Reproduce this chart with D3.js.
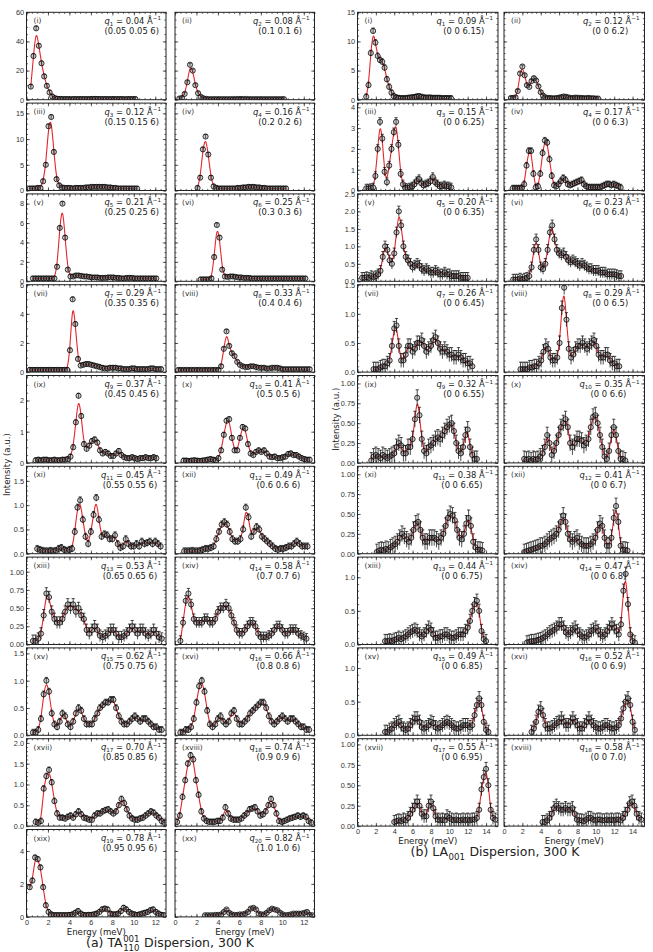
<!DOCTYPE html>
<html>
<head>
<meta charset="utf-8">
<script src="https://cdn.jsdelivr.net/npm/d3@7"></script>
<style>
  body { margin: 0; background: #fff; }
  svg { font-family: "DejaVu Sans", sans-serif; }
  .tick text { fill: #333; }
  text { white-space: pre; }
</style>
</head>
<body>
<script>
// ---- panel labels ----
const roman = ["i","ii","iii","iv","v","vi","vii","viii","ix","x","xi","xii","xiii","xiv","xv","xvi","xvii","xviii","xix","xx"];
const taQ = ["0.04","0.08","0.12","0.16","0.21","0.25","0.29","0.33","0.37","0.41","0.45","0.49","0.53","0.58","0.62","0.66","0.70","0.74","0.78","0.82"];
const taHKL = ["(0.05 0.05 6)","(0.1 0.1 6)","(0.15 0.15 6)","(0.2 0.2 6)","(0.25 0.25 6)","(0.3 0.3 6)","(0.35 0.35 6)","(0.4 0.4 6)","(0.45 0.45 6)","(0.5 0.5 6)","(0.55 0.55 6)","(0.6 0.6 6)","(0.65 0.65 6)","(0.7 0.7 6)","(0.75 0.75 6)","(0.8 0.8 6)","(0.85 0.85 6)","(0.9 0.9 6)","(0.95 0.95 6)","(1.0 1.0 6)"];
const laQ = ["0.09","0.12","0.15","0.17","0.20","0.23","0.26","0.29","0.32","0.35","0.38","0.41","0.44","0.47","0.49","0.52","0.55","0.58"];
const laHKL = ["(0 0 6.15)","(0 0 6.2)","(0 0 6.25)","(0 0 6.3)","(0 0 6.35)","(0 0 6.4)","(0 0 6.45)","(0 0 6.5)","(0 0 6.55)","(0 0 6.6)","(0 0 6.65)","(0 0 6.7)","(0 0 6.75)","(0 0 6.8)","(0 0 6.85)","(0 0 6.9)","(0 0 6.95)","(0 0 7.0)"];

// ---- axis ranges per row ----
const taYMax = [60, 17, 9, 6, 2.8, 1.8, 1.2, 1.6, 2.1, 5.3];
const taYStep = [20, 5, 2, 2, 1, 0.5, 0.25, 0.5, 0.5, 2];
const taYMinor = [5, 1, 0.5, 0.5, 0.25, 0.1, 0.05, 0.1, 0.1, 0.5];
const taYDec = [0, 0, 0, 0, 0, 1, 2, 1, 1, 0];
const laYMax = [15, 4.2, 2.5, 1.5, 1.1, 1.1, 1.3, 1.3, 1.07];
const laYStep = [5, 1, 0.5, 0.5, 0.25, 0.25, 0.5, 0.5, 0.25];
const laYMinor = [1, 0.2, 0.1, 0.1, 0.05, 0.05, 0.1, 0.1, 0.05];
const laYDec = [0, 0, 1, 1, 2, 2, 1, 1, 2];

// ---- measured spectra: first energy (meV), fixed energy step, intensities ----
const eStep = 0.25;
const taStart = [0.4,0.4,0.3,2.1,0.6,2.4,0.3,0.3,0.85,0.8,1.0,0.85,0.6,0.5,0.6,0.5,0.85,0.2,0.3,2.8];
const laStart = [0.95,0.75,0.95,0.95,0.5,1.0,1.75,1.8,1.5,2.2,2.1,2.2,3.0,2.5,3.0,3.0,4.0,4.2];
const taErr = [1.5,1.0,0.4,0.4,0.2,0.2,0.15,0.12,0.08,0.08,0.07,0.07,0.08,0.07,0.06,0.06,0.07,0.07,0.15,0.06];
const laErr = [0.5,0.25,0.2,0.15,0.15,0.15,0.12,0.12,0.1,0.1,0.1,0.1,0.1,0.1,0.1,0.1,0.08,0.08];

const ta01 = [9,30,49,37,25,16,9.5,5,2.2,1,0.6,0.5,0.4,0.4,0.4,0.3,0.4,0.4,0.4,0.4,0.4,0.4,0.4,0.5,0.5,0.5,0.4,0.4,0.4,0.4,0.4,0.4,0.4,0.4,0.4,0.3,0.4,0.4,0.4,0.4];
const ta02 = [0.8,1.2,4,12,24,20,10,4.5,2,1,0.6,0.4,0.4,0.4,0.4,0.4,0.4,0.4,0.4,0.4,0.4,0.5,0.5,0.5,0.5,0.5,0.4,0.4,0.4,0.4,0.4,0.4,0.4,0.4,0.4,0.4,0.4,0.4,0.4,0.4];
const ta03 = [0.4,0.4,0.4,0.5,0.5,1.8,5,12.5,14.3,7.5,2.2,1.0,0.6,0.5,0.5,0.5,0.4,0.5,0.5,0.5,0.5,0.6,0.6,0.7,0.7,0.7,0.7,0.7,0.7,0.6,0.6,0.5,0.5,0.4,0.4,0.4,0.4,0.4,0.4,0.4,0.4];
const ta04 = [0.5,2.5,8,10.5,7,2.5,0.8,0.5,0.4,0.4,0.4,0.4,0.4,0.4,0.4,0.5,0.5,0.6,0.6,0.7,0.7,0.7,0.6,0.6,0.5,0.5,0.4,0.4,0.4,0.4,0.4,0.4,0.4,0.4];
const ta05 = [0.3,0.3,0.3,0.3,0.3,0.3,0.3,0.3,0.3,1.5,5.5,8,4.5,1.2,0.5,0.5,0.6,0.6,0.55,0.5,0.5,0.45,0.4,0.4,0.4,0.35,0.35,0.35,0.4,0.4,0.4,0.35,0.35,0.3,0.3,0.35,0.35,0.35,0.3,0.3,0.3,0.3,0.3,0.3,0.3,0.3,0.3];
const ta06 = [0.2,0.2,0.2,0.2,0.3,2.5,5.8,4.5,1.2,0.5,0.45,0.5,0.5,0.45,0.4,0.4,0.35,0.35,0.35,0.3,0.3,0.3,0.3,0.3,0.3,0.3,0.3,0.3,0.3,0.3,0.3,0.3,0.3,0.3,0.3,0.3,0.3,0.3,0.3,0.3];
const ta07 = [0.15,0.15,0.15,0.15,0.15,0.15,0.15,0.15,0.15,0.15,0.15,0.15,0.15,0.15,0.15,1.5,5.0,3.3,0.9,0.45,0.5,0.55,0.55,0.5,0.45,0.4,0.35,0.3,0.25,0.25,0.3,0.3,0.3,0.25,0.25,0.2,0.2,0.2,0.25,0.25,0.2,0.2,0.2,0.2,0.2,0.25,0.25,0.2,0.2,0.2];
const ta08 = [0.15,0.15,0.15,0.15,0.15,0.15,0.15,0.15,0.15,0.15,0.15,0.15,0.15,0.15,0.15,0.15,0.4,1.6,2.8,1.8,1.3,1.1,0.7,0.5,0.4,0.35,0.35,0.4,0.4,0.35,0.3,0.3,0.3,0.25,0.25,0.3,0.3,0.3,0.25,0.2,0.2,0.2,0.2,0.2,0.2,0.2,0.2,0.2,0.2,0.2];
const ta09 = [0.08,0.1,0.08,0.1,0.1,0.08,0.08,0.1,0.08,0.08,0.1,0.1,0.12,0.2,0.5,1.3,2.15,1.5,0.6,0.45,0.55,0.7,0.75,0.65,0.4,0.3,0.35,0.3,0.22,0.22,0.3,0.38,0.25,0.18,0.15,0.15,0.18,0.15,0.12,0.15,0.15,0.18,0.15,0.15,0.18,0.15];
const ta10 = [0.07,0.07,0.06,0.07,0.08,0.07,0.06,0.07,0.08,0.1,0.12,0.1,0.08,0.15,0.4,0.9,1.35,1.4,0.8,0.4,0.4,0.8,1.15,1.1,0.6,0.3,0.25,0.35,0.4,0.35,0.4,0.3,0.2,0.18,0.2,0.15,0.15,0.18,0.2,0.28,0.3,0.25,0.25,0.2,0.15,0.12,0.1,0.1];
const ta11 = [0.1,0.08,0.06,0.05,0.05,0.06,0.05,0.06,0.1,0.12,0.08,0.06,0.08,0.1,0.45,0.95,1.1,0.7,0.35,0.2,0.45,0.8,1.15,0.7,0.35,0.4,0.38,0.3,0.3,0.38,0.2,0.12,0.15,0.3,0.2,0.15,0.15,0.2,0.15,0.25,0.2,0.22,0.25,0.2,0.25,0.2,0.15];
const ta12 = [0.05,0.05,0.05,0.06,0.05,0.05,0.06,0.08,0.1,0.1,0.12,0.15,0.3,0.45,0.6,0.65,0.6,0.45,0.3,0.25,0.25,0.3,0.5,0.95,0.75,0.35,0.45,0.55,0.5,0.35,0.3,0.25,0.2,0.15,0.1,0.08,0.1,0.1,0.12,0.15,0.15,0.2,0.25,0.2,0.15,0.15,0.15];
const ta13 = [0.05,0.05,0.08,0.15,0.4,0.7,0.65,0.45,0.35,0.3,0.3,0.35,0.45,0.55,0.5,0.55,0.45,0.5,0.4,0.35,0.2,0.15,0.2,0.25,0.2,0.12,0.1,0.12,0.15,0.2,0.2,0.15,0.1,0.1,0.12,0.15,0.2,0.25,0.2,0.15,0.2,0.2,0.15,0.12,0.15,0.2,0.15,0.1,0.08];
const ta14 = [0.05,0.3,0.6,0.7,0.55,0.35,0.3,0.3,0.3,0.35,0.35,0.3,0.3,0.35,0.45,0.5,0.5,0.55,0.5,0.4,0.3,0.2,0.15,0.15,0.2,0.25,0.3,0.3,0.25,0.15,0.1,0.1,0.1,0.12,0.15,0.2,0.25,0.25,0.2,0.15,0.15,0.2,0.2,0.2,0.15,0.12,0.1,0.08];
const ta15 = [0.05,0.05,0.1,0.3,0.75,1.0,0.8,0.4,0.2,0.15,0.25,0.4,0.35,0.2,0.15,0.25,0.4,0.5,0.45,0.3,0.2,0.2,0.2,0.3,0.4,0.5,0.55,0.6,0.6,0.65,0.65,0.5,0.35,0.25,0.2,0.2,0.25,0.3,0.35,0.3,0.25,0.3,0.3,0.25,0.2,0.15,0.15,0.1,0.1];
const ta16 = [0.05,0.05,0.1,0.1,0.15,0.3,0.6,0.9,1.0,0.8,0.45,0.2,0.15,0.2,0.3,0.35,0.25,0.2,0.25,0.4,0.45,0.3,0.2,0.2,0.25,0.3,0.4,0.45,0.5,0.55,0.6,0.6,0.5,0.35,0.25,0.2,0.25,0.3,0.35,0.3,0.25,0.3,0.3,0.25,0.2,0.15,0.15,0.1,0.1];
const ta17 = [0.1,0.08,0.12,0.9,1.2,1.35,1.05,0.6,0.3,0.2,0.2,0.18,0.22,0.25,0.2,0.28,0.35,0.28,0.2,0.18,0.15,0.15,0.25,0.3,0.3,0.35,0.38,0.4,0.35,0.3,0.35,0.5,0.65,0.55,0.4,0.25,0.18,0.15,0.15,0.18,0.2,0.25,0.3,0.35,0.32,0.25,0.2,0.12,0.08];
const ta18 = [0.1,0.25,0.7,1.1,1.5,1.7,1.6,1.1,0.75,0.35,0.18,0.12,0.1,0.1,0.1,0.12,0.12,0.2,0.45,0.3,0.18,0.15,0.15,0.15,0.18,0.25,0.3,0.4,0.42,0.45,0.35,0.25,0.28,0.35,0.5,0.65,0.5,0.3,0.12,0.1,0.12,0.15,0.18,0.2,0.22,0.25,0.22,0.25,0.22,0.12,0.08];
const ta19 = [1.8,2.2,3.6,3.5,3.0,1.8,0.7,0.3,0.15,0.1,0.1,0.1,0.1,0.1,0.1,0.12,0.15,0.25,0.35,0.2,0.12,0.1,0.12,0.12,0.15,0.2,0.3,0.45,0.5,0.45,0.2,0.15,0.15,0.2,0.35,0.55,0.45,0.3,0.2,0.15,0.12,0.15,0.2,0.25,0.3,0.4,0.45,0.3,0.2,0.12,0.1];
const ta20 = [0.1,0.1,0.1,0.1,0.12,0.12,0.15,0.3,0.45,0.25,0.15,0.12,0.12,0.15,0.15,0.2,0.3,0.5,0.55,0.45,0.2,0.15,0.15,0.25,0.4,0.5,0.45,0.4,0.25,0.15,0.1,0.12,0.15,0.2,0.2,0.2,0.2,0.25,0.3,0.12,0.1];

const la01 = [0.5,2.5,8,11.8,9.8,7.5,6.8,6.5,5.5,3.5,2.2,1.2,0.6,0.35,0.25,0.2,0.2,0.2,0.25,0.3,0.35,0.4,0.5,0.55,0.45,0.35,0.3,0.3,0.3,0.25,0.25,0.25,0.25,0.2,0.2,0.2,0.2,0.2];
const la02 = [0.3,0.3,0.4,1.5,4.5,5.7,4.2,2.5,2.2,3.2,3.7,3.3,2.3,1.3,0.7,0.4,0.3,0.3,0.25,0.25,0.3,0.35,0.45,0.55,0.5,0.4,0.3,0.3,0.35,0.35,0.3,0.3,0.25,0.3,0.3,0.25,0.25,0.2,0.2];
const la03 = [0.1,0.1,0.12,0.15,0.7,2.0,3.3,2.5,0.9,0.4,1.2,2.0,2.8,3.3,2.2,0.8,0.3,0.12,0.12,0.15,0.2,0.3,0.45,0.55,0.35,0.25,0.3,0.35,0.45,0.65,0.4,0.3,0.2,0.2,0.25,0.2,0.2,0.15];
const la04 = [0.1,0.1,0.1,0.1,0.12,0.3,1.2,1.9,1.9,0.8,0.15,0.2,0.8,1.8,2.4,2.3,1.5,0.7,0.25,0.2,0.3,0.45,0.6,0.5,0.3,0.25,0.3,0.35,0.4,0.45,0.5,0.3,0.2,0.15,0.15,0.15,0.15,0.15,0.15,0.2,0.25,0.3,0.3,0.25,0.3,0.25,0.2,0.15];
const la05 = [0.1,0.1,0.12,0.1,0.15,0.12,0.15,0.2,0.3,0.7,1.0,0.9,0.6,0.5,0.8,1.4,2.0,1.6,1.0,0.7,0.6,0.5,0.4,0.45,0.5,0.45,0.35,0.3,0.35,0.3,0.25,0.25,0.3,0.25,0.2,0.2,0.25,0.2,0.2,0.15,0.15,0.15,0.15,0.1,0.1,0.1,0.1];
const la06 = [0.05,0.05,0.05,0.08,0.05,0.08,0.1,0.15,0.4,0.9,1.2,0.9,0.4,0.35,0.5,0.9,1.4,1.6,1.2,0.9,0.8,0.75,0.8,0.7,0.6,0.55,0.6,0.55,0.5,0.45,0.5,0.45,0.4,0.35,0.35,0.3,0.3,0.3,0.25,0.25,0.25,0.2,0.2,0.2,0.2,0.18,0.15,0.15];
const la07 = [0.05,0.05,0.05,0.08,0.1,0.1,0.15,0.2,0.45,0.75,0.8,0.45,0.2,0.2,0.3,0.45,0.45,0.35,0.4,0.5,0.5,0.55,0.45,0.35,0.4,0.45,0.55,0.6,0.5,0.4,0.35,0.4,0.35,0.3,0.3,0.25,0.25,0.3,0.25,0.2,0.2,0.15,0.15,0.1];
const la08 = [0.05,0.05,0.05,0.05,0.08,0.08,0.1,0.1,0.15,0.2,0.35,0.45,0.4,0.25,0.2,0.2,0.25,0.5,1.1,1.45,0.9,0.4,0.25,0.3,0.4,0.45,0.45,0.5,0.45,0.4,0.45,0.5,0.55,0.45,0.3,0.25,0.25,0.3,0.3,0.2,0.15,0.15,0.1,0.1];
const la09 = [0.03,0.08,0.1,0.08,0.06,0.1,0.08,0.06,0.08,0.1,0.12,0.2,0.25,0.22,0.12,0.12,0.2,0.2,0.3,0.55,0.82,0.6,0.3,0.15,0.12,0.2,0.22,0.25,0.3,0.32,0.3,0.35,0.4,0.45,0.48,0.5,0.4,0.25,0.15,0.12,0.2,0.35,0.42,0.2,0.1,0.05,0.05];
const la10 = [0.05,0.04,0.05,0.03,0.05,0.04,0.05,0.08,0.12,0.2,0.35,0.25,0.1,0.15,0.25,0.35,0.45,0.5,0.55,0.45,0.25,0.2,0.25,0.3,0.3,0.28,0.22,0.25,0.3,0.45,0.58,0.6,0.5,0.35,0.2,0.08,0.05,0.15,0.35,0.45,0.35,0.15,0.05,0.05,0.03];
const la11 = [0.02,0.04,0.05,0.04,0.06,0.05,0.08,0.1,0.12,0.15,0.2,0.25,0.22,0.18,0.15,0.2,0.3,0.38,0.4,0.3,0.2,0.15,0.15,0.2,0.2,0.2,0.18,0.15,0.2,0.25,0.35,0.45,0.5,0.48,0.42,0.3,0.2,0.18,0.25,0.38,0.45,0.35,0.15,0.08,0.05,0.05,0.04];
const la12 = [0.02,0.03,0.04,0.05,0.06,0.07,0.08,0.1,0.1,0.12,0.15,0.18,0.2,0.22,0.25,0.3,0.4,0.48,0.4,0.25,0.18,0.15,0.18,0.2,0.15,0.12,0.1,0.1,0.1,0.12,0.15,0.2,0.3,0.38,0.35,0.2,0.1,0.1,0.2,0.45,0.6,0.4,0.1,0.05,0.05,0.04];
const la13 = [0.05,0.05,0.06,0.05,0.07,0.08,0.1,0.08,0.1,0.12,0.15,0.18,0.2,0.22,0.2,0.15,0.12,0.15,0.2,0.25,0.22,0.15,0.1,0.1,0.12,0.12,0.15,0.15,0.12,0.1,0.1,0.12,0.15,0.15,0.15,0.2,0.25,0.35,0.5,0.6,0.65,0.5,0.2,0.08,0.05];
const la14 = [0.03,0.04,0.05,0.05,0.06,0.07,0.08,0.1,0.12,0.15,0.18,0.2,0.22,0.25,0.3,0.3,0.25,0.18,0.15,0.18,0.22,0.25,0.2,0.15,0.12,0.1,0.12,0.15,0.2,0.22,0.25,0.2,0.15,0.12,0.15,0.2,0.25,0.3,0.25,0.2,0.15,0.3,0.8,1.05,0.6,0.15,0.05,0.03];
const la15 = [0.05,0.05,0.08,0.1,0.15,0.18,0.2,0.15,0.1,0.08,0.1,0.15,0.2,0.25,0.25,0.2,0.12,0.1,0.12,0.15,0.2,0.18,0.12,0.1,0.12,0.15,0.18,0.2,0.18,0.15,0.12,0.1,0.1,0.12,0.15,0.15,0.15,0.12,0.15,0.3,0.45,0.55,0.45,0.2,0.08,0.05];
const la16 = [0.05,0.1,0.2,0.35,0.4,0.3,0.15,0.1,0.1,0.12,0.15,0.18,0.2,0.25,0.2,0.15,0.15,0.2,0.25,0.2,0.15,0.1,0.1,0.15,0.2,0.25,0.2,0.15,0.12,0.1,0.1,0.12,0.15,0.15,0.12,0.1,0.1,0.12,0.15,0.25,0.4,0.5,0.55,0.45,0.2,0.08];
const la17 = [0.05,0.06,0.07,0.06,0.08,0.07,0.1,0.15,0.2,0.25,0.3,0.25,0.15,0.12,0.12,0.25,0.3,0.22,0.12,0.08,0.07,0.08,0.07,0.12,0.1,0.08,0.07,0.08,0.07,0.07,0.08,0.07,0.08,0.07,0.08,0.08,0.1,0.2,0.45,0.6,0.7,0.5,0.2,0.1,0.08];
const la18 = [0.05,0.05,0.07,0.1,0.15,0.22,0.25,0.22,0.2,0.2,0.22,0.2,0.2,0.22,0.15,0.08,0.07,0.07,0.06,0.08,0.1,0.1,0.08,0.07,0.08,0.08,0.07,0.07,0.08,0.07,0.08,0.07,0.08,0.08,0.07,0.1,0.15,0.2,0.28,0.3,0.25,0.15,0.1,0.08];

const taData = [ta01,ta02,ta03,ta04,ta05,ta06,ta07,ta08,ta09,ta10,ta11,ta12,ta13,ta14,ta15,ta16,ta17,ta18,ta19,ta20];
const laData = [la01,la02,la03,la04,la05,la06,la07,la08,la09,la10,la11,la12,la13,la14,la15,la16,la17,la18];

// ---- layout ----
const svg = d3.select('body').append('svg')
  .attr('width', 653).attr('height', 952);

const rowTop = 12.3, rowPitch = 90.8, panelH = 87.4;

function drawPanel(cfg) {
  const {x0, y0, w, h, xMax, yMax, yStep, yMinor, yDec, showY, showX, vals, start, err, rn, q, qi, hkl} = cfg;
  const g = svg.append('g').attr('transform', `translate(${x0},${y0})`);
  const x = d3.scaleLinear().domain([0, xMax]).range([0, w]);
  const y = d3.scaleLinear().domain([0, yMax]).range([h, 0]);

  const pts = vals.map((v, i) => ({e: start + i * eStep, v: v}));

  const xMaj = d3.range(0, xMax + 0.001, 2);
  const xMin = d3.range(0, xMax + 0.001, 0.5);
  const yMaj = d3.range(0, yMax + 1e-6, yStep);
  const yMin = d3.range(0, yMax + 1e-6, yMinor);

  // minor ticks
  [[d3.axisBottom(x), h], [d3.axisTop(x), 0]].forEach(([ax, ty]) => {
    g.append('g').attr('transform', `translate(0,${ty})`)
      .call(ax.tickValues(xMin).tickSize(-1.6).tickSizeOuter(0).tickFormat(''))
      .call(s => s.select('.domain').remove());
  });
  [[d3.axisLeft(y), 0], [d3.axisRight(y), w]].forEach(([ax, tx]) => {
    g.append('g').attr('transform', `translate(${tx},0)`)
      .call(ax.tickValues(yMin).tickSize(-1.6).tickSizeOuter(0).tickFormat(''))
      .call(s => s.select('.domain').remove());
  });

  // major ticks
  g.append('g').attr('transform', `translate(0,${h})`)
    .call(d3.axisBottom(x).tickValues(xMaj).tickSize(-3.2).tickSizeOuter(0).tickPadding(3)
      .tickFormat(showX ? d3.format('d') : ''))
    .call(s => s.select('.domain').remove())
    .call(s => s.selectAll('text').attr('font-size', 7.3));
  g.append('g')
    .call(d3.axisTop(x).tickValues(xMaj).tickSize(-3.2).tickSizeOuter(0).tickFormat(''))
    .call(s => s.select('.domain').remove());
  g.append('g')
    .call(d3.axisLeft(y).tickValues(yMaj).tickSize(-3.2).tickSizeOuter(0).tickPadding(2.5)
      .tickFormat(showY ? d3.format(`.${yDec}f`) : ''))
    .call(s => s.select('.domain').remove())
    .call(s => s.selectAll('text').attr('font-size', 7.3));
  g.append('g').attr('transform', `translate(${w},0)`)
    .call(d3.axisRight(y).tickValues(yMaj).tickSize(-3.2).tickSizeOuter(0).tickFormat(''))
    .call(s => s.select('.domain').remove());
  g.selectAll('.tick line').attr('stroke', '#222').attr('stroke-width', 0.7);

  const plot = g.append('g');
  const clipId = `clip${Math.round(x0)}_${Math.round(y0)}`;
  g.append('clipPath').attr('id', clipId).append('rect').attr('width', w).attr('height', h);
  plot.attr('clip-path', `url(#${clipId})`);

  // fit curve
  const line = d3.line().x(d => x(d.e)).y(d => y(d.v)).curve(d3.curveBasis);
  plot.append('path').datum(pts).attr('d', line)
    .attr('fill', 'none').attr('stroke', '#e3262b').attr('stroke-width', 1.1);

  // error bars
  const eb = plot.append('g').attr('stroke', '#000').attr('stroke-width', 0.7);
  eb.selectAll('line.v').data(pts).join('line').attr('class', 'v')
    .attr('x1', d => x(d.e)).attr('x2', d => x(d.e))
    .attr('y1', d => y(d.v - err)).attr('y2', d => y(d.v + err));
  eb.selectAll('line.c').data(pts).join('line').attr('class', 'c')
    .attr('x1', d => x(d.e) - 1.6).attr('x2', d => x(d.e) + 1.6)
    .attr('y1', d => y(d.v + err)).attr('y2', d => y(d.v + err));

  // markers
  plot.selectAll('circle').data(pts).join('circle')
    .attr('cx', d => x(d.e)).attr('cy', d => y(d.v)).attr('r', 2.6)
    .attr('fill', 'rgba(110,110,110,0.35)').attr('stroke', '#000').attr('stroke-width', 0.75);

  // frame
  g.append('rect').attr('width', w).attr('height', h)
    .attr('fill', 'none').attr('stroke', '#222').attr('stroke-width', 1);

  // labels
  g.append('text').attr('x', 7).attr('y', 11).attr('font-size', 7.4).attr('fill', '#333').text(`(${rn})`);
  const t = g.append('text').attr('x', w - 5).attr('y', 11.5).attr('text-anchor', 'end')
    .attr('font-size', 8.4).attr('fill', '#222');
  t.append('tspan').attr('font-style', 'italic').text('q');
  t.append('tspan').attr('dy', 2).attr('font-size', 5.6).text(qi);
  t.append('tspan').attr('dy', -2).text(` = ${q} Å`);
  t.append('tspan').attr('dy', -3.4).attr('font-size', 5.6).text('−1');
  const tw = t.node().getComputedTextLength();
  g.append('text').attr('x', w - 5 - tw / 2 - 1).attr('y', 21.5).attr('text-anchor', 'middle')
    .attr('font-size', 8.4).attr('fill', '#222').text(hkl);
}

// (a) TA figure
const taCols = [26.5, 175], taW = 139.5;
taData.forEach((vals, i) => {
  const row = Math.floor(i / 2), col = i % 2;
  drawPanel({
    x0: taCols[col], y0: rowTop + row * rowPitch, w: taW, h: panelH,
    xMax: 13, yMax: taYMax[row], yStep: taYStep[row], yMinor: taYMinor[row], yDec: taYDec[row],
    showY: col === 0, showX: row === 9,
    vals: vals, start: taStart[i], err: taErr[i],
    rn: roman[i], q: taQ[i], qi: i + 1, hkl: taHKL[i]
  });
});

// (b) LA figure
const laCols = [357.5, 504], laW = 140.5;
laData.forEach((vals, i) => {
  const row = Math.floor(i / 2), col = i % 2;
  drawPanel({
    x0: laCols[col], y0: rowTop + row * rowPitch, w: laW, h: panelH,
    xMax: 15.3, yMax: laYMax[row], yStep: laYStep[row], yMinor: laYMinor[row], yDec: laYDec[row],
    showY: col === 0, showX: row === 8,
    vals: vals, start: laStart[i], err: laErr[i],
    rn: roman[i], q: laQ[i], qi: i + 1, hkl: laHKL[i]
  });
});

// axis titles
const taBottom = rowTop + 9 * rowPitch + panelH;
const laBottom = rowTop + 8 * rowPitch + panelH;
taCols.forEach(c => svg.append('text').attr('x', c + taW / 2).attr('y', taBottom + 18)
  .attr('text-anchor', 'middle').attr('font-size', 8.6).attr('fill', '#222').text('Energy (meV)'));
laCols.forEach(c => svg.append('text').attr('x', c + laW / 2).attr('y', laBottom + 18)
  .attr('text-anchor', 'middle').attr('font-size', 8.6).attr('fill', '#222').text('Energy (meV)'));

svg.append('text').attr('transform', `translate(10,${(rowTop + taBottom) / 2}) rotate(-90)`)
  .attr('text-anchor', 'middle').attr('font-size', 8.6).attr('fill', '#222').text('Intensity (a.u.)');
svg.append('text').attr('transform', `translate(339,${(rowTop + laBottom) / 2}) rotate(-90)`)
  .attr('text-anchor', 'middle').attr('font-size', 8.6).attr('fill', '#222').text('Intensity (a.u.)');

// figure captions with stacked indices
function caption(cx, cy, pre, sup, sub, post) {
  const fs = 12.5, fsS = 8.6;
  const g = svg.append('g');
  const a = g.append('text').attr('y', cy).attr('font-size', fs).attr('fill', '#222').text(pre);
  const wa = a.node().getComputedTextLength();
  let wi = 0;
  if (sup) {
    const s = g.append('text').attr('x', wa + 0.5).attr('y', cy - 5).attr('font-size', fsS).attr('fill', '#222').text(sup);
    wi = Math.max(wi, s.node().getComputedTextLength());
  }
  if (sub) {
    const s = g.append('text').attr('x', wa + 0.5).attr('y', cy + 3.5).attr('font-size', fsS).attr('fill', '#222').text(sub);
    wi = Math.max(wi, s.node().getComputedTextLength());
  }
  const gap = fs * 0.32;
  const b = g.append('text').attr('x', wa + wi + 1 + gap).attr('y', cy).attr('font-size', fs).attr('fill', '#222').text(post.trim());
  const total = wa + wi + 1 + gap + b.node().getComputedTextLength();
  g.attr('transform', `translate(${cx - total / 2},0)`);
}
caption(170, 947, '(a) TA', '001', '110', ' Dispersion, 300 K');
caption(495, 856, '(b) LA', null, '001', ' Dispersion, 300 K');
</script>
</body>
</html>
